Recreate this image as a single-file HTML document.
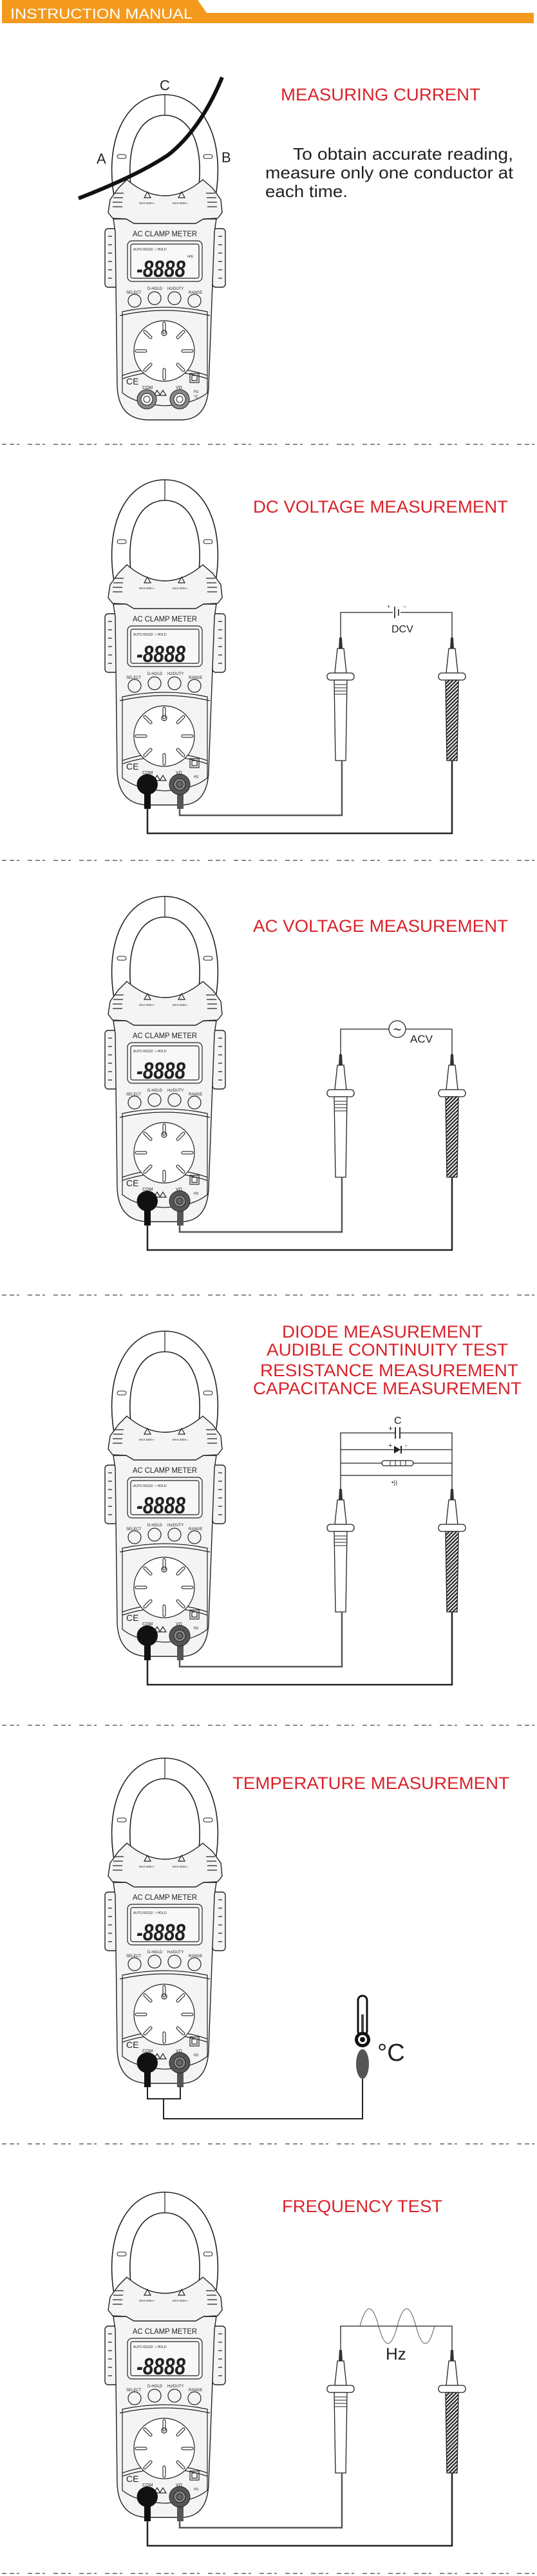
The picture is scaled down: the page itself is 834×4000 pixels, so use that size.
<!DOCTYPE html>
<html><head><meta charset="utf-8"><style>
html,body{margin:0;padding:0;background:#fff;}
svg{display:block;}
text{font-family:"Liberation Sans",sans-serif;}
</style></head><body>
<svg width="834" height="4000" viewBox="0 0 834 4000" xmlns="http://www.w3.org/2000/svg">
<defs>
<pattern id="h" width="4" height="4" patternUnits="userSpaceOnUse" patternTransform="rotate(45)"><rect width="4" height="4" fill="#fff"/><rect width="2.2" height="4" fill="#222"/></pattern>
<symbol id="clamp" overflow="visible">
<path d="M180 320 C158 220 195 147 256 147 C317 147 354 220 332 320 Z" fill="#fff" stroke="#222" stroke-width="1.6"/>
<path d="M205 305 C192 215 222 179 256 179 C290 179 320 215 307 305 Z" fill="#fff" stroke="#222" stroke-width="1.6"/>
<line x1="256" y1="147" x2="256" y2="179" stroke="#222" stroke-width="1.2"/>
<rect x="182" y="240" width="14" height="6" rx="3" fill="none" stroke="#222"/>
<rect x="316" y="240" width="14" height="6" rx="3" fill="none" stroke="#222"/>
</symbol>
<symbol id="body" overflow="visible">
<g fill="#f4f4f4" stroke="#222" stroke-width="1.4">
<rect x="163" y="355" width="20" height="91" rx="5"/>
<rect x="330" y="355" width="20" height="91" rx="5"/>
<path d="M176 340 L179 360 L182 600 Q184 650 228 652 L284 652 Q322 650 324 600 L333 360 L336 340 Z"/>
<path d="M168 330 L171 310 L184 292 L197 279 Q256 329 315 279 L330 292 L343 310 L345 330 L338 339 L316 340 L304 347 L208 347 L196 340 L175 339 Z"/>
</g>
<g fill="none" stroke="#222" stroke-width="1.2">
<path d="M168 367h6M168 380h6M168 393h6M168 406h6M168 419h6M168 432h6M339 367h6M339 380h6M339 393h6M339 406h6M339 419h6M339 432h6"/>
<path d="M178 300h14M176 307h15M175 314h15M175 321h15M320 300h14M321 307h15M322 314h15M322 321h15"/>
<path d="M229 298 L234 307 L224 307 Z M282 298 L287 307 L277 307 Z"/>
<rect x="198" y="374" width="116" height="63" rx="7" fill="#f8f8f8"/>
<rect x="203" y="379" width="106" height="53" rx="3"/>
<circle cx="209" cy="467" r="10"/><circle cx="240" cy="463" r="10"/><circle cx="271" cy="463" r="10"/><circle cx="302" cy="467" r="10"/>
<path d="M190 484 Q256 470 322 484 L322 610 Q300 628 256 630 Q212 628 190 610 Z"/>
<path d="M186 490 Q256 474 326 490"/>
<path d="M190 583 Q256 560 322 583"/>
<path d="M190 588 Q256 566 322 588"/>
<circle cx="255" cy="545" r="47" fill="#fff"/>
<g stroke-width="5" stroke-linecap="round" stroke="#222"><path d="M255 502v14M255 574v14M212 545h14M284 545h14M225 515l9 9M285 515l-9 9M225 575l9-9M285 575l-9-9"/></g>
<g stroke-width="2.8" stroke-linecap="round" stroke="#fff"><path d="M255 502v14M255 574v14M212 545h14M284 545h14M225 515l9 9M285 515l-9 9M225 575l9-9M285 575l-9-9"/></g>
<circle cx="255" cy="517" r="4"/>
<rect x="295" y="580" width="14" height="14"/><rect x="298" y="583" width="8" height="8"/>
<path d="M244 606 L249 614 L239 614 Z M253 606 L258 614 L248 614 Z"/>
</g>
<circle cx="228" cy="620" r="15" fill="#888" stroke="#222"/><circle cx="228" cy="620" r="9" fill="#fff" stroke="#222"/><circle cx="228" cy="620" r="5" fill="none" stroke="#222"/>
<circle cx="279" cy="620" r="15" fill="#888" stroke="#222"/><circle cx="279" cy="620" r="9" fill="#fff" stroke="#222"/><circle cx="279" cy="620" r="5" fill="none" stroke="#222"/>
</symbol>
<symbol id="plugs" overflow="visible">
<rect x="224" y="628" width="10" height="30" fill="#111"/>
<rect x="275" y="628" width="10" height="30" fill="#555"/>
<circle cx="229" cy="620" r="16" fill="#111"/>
<circle cx="279" cy="620" r="16" fill="#555" stroke="#222"/><circle cx="279" cy="620" r="9" fill="#888" stroke="#222"/><circle cx="279" cy="620" r="5" fill="#666" stroke="#222"/>
</symbol>
<symbol id="probeL" overflow="visible">
<path d="M-2 245 L2 245 L3 262 L-3 262 Z" fill="#333"/>
<path d="M-5 262 L5 262 L9 300 L-9 300 Z" fill="#fff" stroke="#222" stroke-width="1.3"/>
<rect x="-21" y="300" width="42" height="11" rx="5" fill="#fff" stroke="#222" stroke-width="1.3"/>
<path d="M-10 311 L10 311 L8 436 L-8 436 Z" fill="#fff" stroke="#222" stroke-width="1.3"/>
<path d="M-9 318h18M-9 323h18M-9 328h18M-9 333h18" stroke="#222"/>
</symbol>
<symbol id="probeR" overflow="visible">
<path d="M-2 245 L2 245 L3 262 L-3 262 Z" fill="#333"/>
<path d="M-5 262 L5 262 L9 300 L-9 300 Z" fill="#fff" stroke="#222" stroke-width="1.3"/>
<rect x="-21" y="300" width="42" height="11" rx="5" fill="#fff" stroke="#222" stroke-width="1.3"/>
<path d="M-10 311 L10 311 L8 436 L-8 436 Z" fill="url(#h)" stroke="#222" stroke-width="1.3"/>
</symbol>
</defs>

<polygon points="3,0 307,0 321,20 829,20 829,36 3,36" fill="#f39a1e"/>
<text x="16" y="29" font-size="22" fill="#fff" textLength="283" lengthAdjust="spacingAndGlyphs">INSTRUCTION MANUAL</text>

<g stroke="#444" stroke-width="1.3" stroke-dasharray="7 5 7 4 4 13">
<line x1="3" y1="690" x2="834" y2="690"/>
<line x1="3" y1="1336" x2="834" y2="1336"/>
<line x1="3" y1="2011" x2="834" y2="2011"/>
<line x1="3" y1="2679" x2="834" y2="2679"/>
<line x1="3" y1="3329" x2="834" y2="3329"/>
<line x1="3" y1="3996" x2="834" y2="3996"/>
</g>

<g fill="#d9222a" font-size="27">
<text x="436" y="156" textLength="310" lengthAdjust="spacingAndGlyphs">MEASURING CURRENT</text>
<text x="393" y="796" textLength="396" lengthAdjust="spacingAndGlyphs">DC VOLTAGE MEASUREMENT</text>
<text x="393" y="1447" textLength="396" lengthAdjust="spacingAndGlyphs">AC VOLTAGE MEASUREMENT</text>
<text x="438" y="2077" textLength="311" lengthAdjust="spacingAndGlyphs">DIODE MEASUREMENT</text>
<text x="414" y="2105" textLength="375" lengthAdjust="spacingAndGlyphs">AUDIBLE CONTINUITY TEST</text>
<text x="404" y="2137" textLength="401" lengthAdjust="spacingAndGlyphs">RESISTANCE MEASUREMENT</text>
<text x="393" y="2165" textLength="417" lengthAdjust="spacingAndGlyphs">CAPACITANCE MEASUREMENT</text>
<text x="361" y="2778" textLength="430" lengthAdjust="spacingAndGlyphs">TEMPERATURE MEASUREMENT</text>
<text x="438" y="3435" textLength="249" lengthAdjust="spacingAndGlyphs">FREQUENCY TEST</text>
</g>
<g fill="#231f20" font-size="26">
<text x="455" y="248" textLength="342" lengthAdjust="spacingAndGlyphs">To obtain accurate reading,</text>
<text x="412" y="277" textLength="385" lengthAdjust="spacingAndGlyphs">measure only one conductor at</text>
<text x="412" y="306" textLength="128" lengthAdjust="spacingAndGlyphs">each time.</text>
</g>

<use href="#clamp"/>
<path d="M122 308 Q215 272 262 240 Q312 200 345 120" fill="none" stroke="#111" stroke-width="6"/>
<use href="#body"/>
<g font-size="22" fill="#222"><text x="248" y="140">C</text><text x="150" y="254">A</text><text x="344" y="252">B</text></g>

<g transform="translate(0,598)">
<use href="#clamp"/><use href="#body"/><use href="#plugs"/>
<path d="M529 392 V353 H610 M622 353 H702 V392" fill="none" stroke="#222" stroke-width="1.3"/>
<path d="M613 344 V362 M619 348 V358" stroke="#222" stroke-width="1.6"/>
<text x="601" y="347" font-size="9" fill="#333">+</text><text x="626" y="347" font-size="9" fill="#333">−</text>
<text x="608" y="384" font-size="16" fill="#222">DCV</text>
<use href="#probeL" x="529" y="147"/><use href="#probeR" x="702" y="147"/>
<path d="M279 657 V668 H531 V583" fill="none" stroke="#555" stroke-width="2.5"/>
<path d="M229 657 V696 H702 V583" fill="none" stroke="#222" stroke-width="2.5"/>
</g>

<g transform="translate(0,1245)">
<use href="#clamp"/><use href="#body"/><use href="#plugs"/>
<path d="M529 392 V353 H604 M630 353 H702 V392" fill="none" stroke="#222" stroke-width="1.3"/>
<circle cx="617" cy="353" r="13" fill="#fff" stroke="#222" stroke-width="1.3"/>
<text x="617" y="361" font-size="22" text-anchor="middle" fill="#222">~</text>
<text x="637" y="374" font-size="17" fill="#222">ACV</text>
<use href="#probeL" x="529" y="147"/><use href="#probeR" x="702" y="147"/>
<path d="M279 657 V668 H531 V583" fill="none" stroke="#555" stroke-width="2.5"/>
<path d="M229 657 V696 H702 V583" fill="none" stroke="#222" stroke-width="2.5"/>
</g>

<g transform="translate(0,1920)">
<use href="#clamp"/><use href="#body"/><use href="#plugs"/>
<g fill="none" stroke="#222" stroke-width="1.3">
<path d="M529 392 V305 H614 M621 305 H702 V392"/>
<path d="M529 331 H702 M529 352 H702 M529 371 H702"/>
<path d="M614 296 V314 M621 296 V314" stroke-width="1.8"/>
</g>
<path d="M612 325 L622 331 L612 337 Z" fill="#222"/><path d="M623 325 V337" stroke="#222" stroke-width="2"/>
<rect x="593" y="348" width="49" height="8" rx="4" fill="#fff" stroke="#222" stroke-width="1.3"/>
<path d="M606 348v8M614 348v8M622 348v8M630 348v8" stroke="#222"/>
<text x="612" y="291" font-size="16" fill="#222">C</text>
<text x="603" y="302" font-size="12" fill="#222">+</text>
<text x="603" y="328" font-size="11" fill="#222">+</text><text x="629" y="328" font-size="11" fill="#222">-</text>
<text x="608" y="385" font-size="9" fill="#222">•))</text>
<use href="#probeL" x="529" y="147"/><use href="#probeR" x="702" y="147"/>
<path d="M279 657 V668 H531 V583" fill="none" stroke="#555" stroke-width="2.5"/>
<path d="M229 657 V696 H702 V583" fill="none" stroke="#222" stroke-width="2.5"/>
</g>

<g transform="translate(0,2583)">
<use href="#clamp"/><use href="#body"/><use href="#plugs"/>
<path d="M229 657 V676 H280 V657 M254 676 V707 H563 V645" fill="none" stroke="#222" stroke-width="2"/>
<rect x="556" y="516" width="14" height="62" rx="7" fill="#fff" stroke="#111" stroke-width="3"/>
<rect x="561" y="545" width="4" height="35" fill="#444"/>
<circle cx="563" cy="584" r="12" fill="#111"/><circle cx="563" cy="584" r="7" fill="#fff"/><circle cx="563" cy="584" r="4" fill="#111"/>
<ellipse cx="563" cy="622" rx="10" ry="23" fill="#555"/>
<text x="586" y="617" font-size="38" fill="#222">°C</text>
</g>

<g transform="translate(0,3257)">
<use href="#clamp"/><use href="#body"/><use href="#plugs"/>
<path d="M529 392 V355 H702 V392" fill="none" stroke="#222" stroke-width="1.3"/>
<path d="M559 355 Q573.5 301 588 355 Q602.5 409 617 355 Q631.5 301 646 355 Q660.5 409 675 355" fill="none" stroke="#555" stroke-width="1"/>
<text x="599" y="407" font-size="26" fill="#222">Hz</text>
<use href="#probeL" x="529" y="147"/><use href="#probeR" x="702" y="147"/>
<path d="M279 657 V668 H531 V583" fill="none" stroke="#555" stroke-width="2.5"/>
<path d="M229 657 V696 H702 V583" fill="none" stroke="#222" stroke-width="2.5"/>
</g>

<g fill="#222">
<g transform="translate(0,0)"><text x="256" y="367" font-size="12" text-anchor="middle" textLength="100" lengthAdjust="spacingAndGlyphs">AC CLAMP METER</text><text x="212" y="430" font-size="36" font-weight="bold" font-style="italic" textLength="76" lengthAdjust="spacingAndGlyphs">-8888</text><text x="207" y="389" font-size="5">AUTO RS232 ⊣ HOLD</text><text x="291" y="400" font-size="5">hFE</text><text x="196" y="456" font-size="6">SELECT</text><text x="229" y="450" font-size="6">D-HOLD</text><text x="260" y="450" font-size="6">Hz/DUTY</text><text x="293" y="456" font-size="6">RANGE</text><text x="216" y="317" font-size="4.5">MAX 600A~</text><text x="268" y="317" font-size="4.5">MAX 600A=</text><text x="196" y="597" font-size="14">CE</text><text x="221" y="604" font-size="7">COM</text><text x="273" y="604" font-size="7">VΩ</text><text x="301" y="610" font-size="6">Hz</text><text x="301" y="618" font-size="6">°C</text></g>
<g transform="translate(0,598)"><text x="256" y="367" font-size="12" text-anchor="middle" textLength="100" lengthAdjust="spacingAndGlyphs">AC CLAMP METER</text><text x="212" y="430" font-size="36" font-weight="bold" font-style="italic" textLength="76" lengthAdjust="spacingAndGlyphs">-8888</text><text x="207" y="389" font-size="5">AUTO RS232 ⊣ HOLD</text><text x="196" y="456" font-size="6">SELECT</text><text x="229" y="450" font-size="6">D-HOLD</text><text x="260" y="450" font-size="6">Hz/DUTY</text><text x="293" y="456" font-size="6">RANGE</text><text x="216" y="317" font-size="4.5">MAX 600A~</text><text x="268" y="317" font-size="4.5">MAX 600A=</text><text x="196" y="597" font-size="14">CE</text><text x="221" y="604" font-size="7">COM</text><text x="273" y="604" font-size="7">VΩ</text><text x="301" y="610" font-size="6">Hz</text></g>
<g transform="translate(0,1245)"><text x="256" y="367" font-size="12" text-anchor="middle" textLength="100" lengthAdjust="spacingAndGlyphs">AC CLAMP METER</text><text x="212" y="430" font-size="36" font-weight="bold" font-style="italic" textLength="76" lengthAdjust="spacingAndGlyphs">-8888</text><text x="207" y="389" font-size="5">AUTO RS232 ⊣ HOLD</text><text x="196" y="456" font-size="6">SELECT</text><text x="229" y="450" font-size="6">D-HOLD</text><text x="260" y="450" font-size="6">Hz/DUTY</text><text x="293" y="456" font-size="6">RANGE</text><text x="216" y="317" font-size="4.5">MAX 600A~</text><text x="268" y="317" font-size="4.5">MAX 600A=</text><text x="196" y="597" font-size="14">CE</text><text x="221" y="604" font-size="7">COM</text><text x="273" y="604" font-size="7">VΩ</text><text x="301" y="610" font-size="6">Hz</text></g>
<g transform="translate(0,1920)"><text x="256" y="367" font-size="12" text-anchor="middle" textLength="100" lengthAdjust="spacingAndGlyphs">AC CLAMP METER</text><text x="212" y="430" font-size="36" font-weight="bold" font-style="italic" textLength="76" lengthAdjust="spacingAndGlyphs">-8888</text><text x="207" y="389" font-size="5">AUTO RS232 ⊣ HOLD</text><text x="196" y="456" font-size="6">SELECT</text><text x="229" y="450" font-size="6">D-HOLD</text><text x="260" y="450" font-size="6">Hz/DUTY</text><text x="293" y="456" font-size="6">RANGE</text><text x="216" y="317" font-size="4.5">MAX 600A~</text><text x="268" y="317" font-size="4.5">MAX 600A=</text><text x="196" y="597" font-size="14">CE</text><text x="221" y="604" font-size="7">COM</text><text x="273" y="604" font-size="7">VΩ</text><text x="301" y="610" font-size="6">Hz</text></g>
<g transform="translate(0,2583)"><text x="256" y="367" font-size="12" text-anchor="middle" textLength="100" lengthAdjust="spacingAndGlyphs">AC CLAMP METER</text><text x="212" y="430" font-size="36" font-weight="bold" font-style="italic" textLength="76" lengthAdjust="spacingAndGlyphs">-8888</text><text x="207" y="389" font-size="5">AUTO RS232 ⊣ HOLD</text><text x="196" y="456" font-size="6">SELECT</text><text x="229" y="450" font-size="6">D-HOLD</text><text x="260" y="450" font-size="6">Hz/DUTY</text><text x="293" y="456" font-size="6">RANGE</text><text x="216" y="317" font-size="4.5">MAX 600A~</text><text x="268" y="317" font-size="4.5">MAX 600A=</text><text x="196" y="597" font-size="14">CE</text><text x="221" y="604" font-size="7">COM</text><text x="273" y="604" font-size="7">VΩ</text><text x="301" y="610" font-size="6">Hz</text></g>
<g transform="translate(0,3257)"><text x="256" y="367" font-size="12" text-anchor="middle" textLength="100" lengthAdjust="spacingAndGlyphs">AC CLAMP METER</text><text x="212" y="430" font-size="36" font-weight="bold" font-style="italic" textLength="76" lengthAdjust="spacingAndGlyphs">-8888</text><text x="207" y="389" font-size="5">AUTO RS232 ⊣ HOLD</text><text x="196" y="456" font-size="6">SELECT</text><text x="229" y="450" font-size="6">D-HOLD</text><text x="260" y="450" font-size="6">Hz/DUTY</text><text x="293" y="456" font-size="6">RANGE</text><text x="216" y="317" font-size="4.5">MAX 600A~</text><text x="268" y="317" font-size="4.5">MAX 600A=</text><text x="196" y="597" font-size="14">CE</text><text x="221" y="604" font-size="7">COM</text><text x="273" y="604" font-size="7">VΩ</text><text x="301" y="610" font-size="6">Hz</text></g>
</g>
</svg>
</body></html>
